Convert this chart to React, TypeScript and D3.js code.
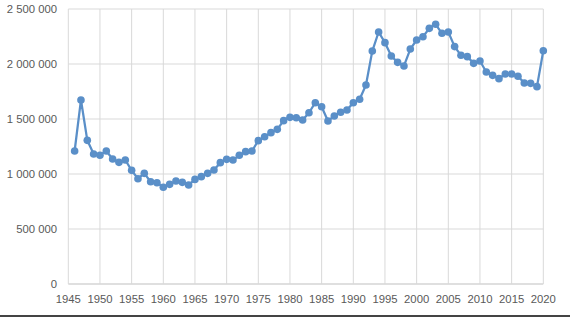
import React from "react";
import * as d3 from "d3";

const years: number[] = d3.range(1946, 2021);
const values: number[] = [
  1209000, 1673000, 1306000, 1182000, 1170000, 1209000, 1136000, 1106000, 1127000, 1033000,
  957000, 1006000, 930000, 921000, 879000, 906000, 936000, 924000, 900000, 951000,
  976000, 1006000, 1036000, 1103000, 1133000, 1127000, 1170000, 1203000, 1209000, 1303000,
  1339000, 1376000, 1406000, 1485000, 1515000, 1512000, 1491000, 1557000, 1648000, 1612000,
  1482000, 1527000, 1561000, 1582000, 1648000, 1679000, 1809000, 2118000, 2291000, 2194000,
  2073000, 2015000, 1982000, 2136000, 2218000, 2248000, 2324000, 2361000, 2279000, 2291000,
  2158000, 2079000, 2067000, 2006000, 2027000, 1927000, 1897000, 1867000, 1909000, 1909000,
  1888000, 1827000, 1824000, 1794000, 2121000,
];
const xTicks: number[] = d3.range(1945, 2021, 5);
const yTicks: number[] = [0, 500000, 1000000, 1500000, 2000000, 2500000];

const W = 570;
const H = 317;
const left = 68.3;
const right = 543.3;
const top = 9;
const bottom = 284;

const fmt = (v: number) => d3.format(",")(v).replace(/,/g, " ");

export default function App() {
  const x = d3.scaleLinear().domain([1945, 2020]).range([left, right]);
  const y = d3.scaleLinear().domain([0, 2500000]).range([bottom, top]);
  const pts = years.map((yr, i) => ({ yr, v: values[i] }));
  const line = d3
    .line<{ yr: number; v: number }>()
    .x((d) => x(d.yr))
    .y((d) => y(d.v));
  const font = "'Liberation Sans', Arial, sans-serif";
  const color = "#5a8fc8";
  return (
    <svg
      width={W}
      height={H}
      style={{ position: "absolute", left: 0, top: 0, background: "#fff" }}
    >
      {yTicks.map((t) => (
        <line
          key={"h" + t}
          x1={left}
          x2={right}
          y1={y(t)}
          y2={y(t)}
          stroke={t === 0 ? "#bfbfbf" : "#d9d9d9"}
          strokeWidth={1}
        />
      ))}
      {xTicks.map((t) => (
        <line
          key={"v" + t}
          x1={x(t)}
          x2={x(t)}
          y1={top}
          y2={bottom}
          stroke="#d9d9d9"
          strokeWidth={1}
        />
      ))}
      {yTicks.map((t) => (
        <text
          key={"yl" + t}
          x={57}
          y={y(t)}
          dy="0.35em"
          textAnchor="end"
          fontFamily={font}
          fontSize={11.3}
          fill="#595959"
        >
          {fmt(t)}
        </text>
      ))}
      {xTicks.map((t) => (
        <text
          key={"xl" + t}
          x={x(t)}
          y={299}
          dy="0.35em"
          textAnchor="middle"
          fontFamily={font}
          fontSize={11.3}
          fill="#595959"
        >
          {t}
        </text>
      ))}
      <path
        d={line(pts) || ""}
        fill="none"
        stroke={color}
        strokeWidth={2.25}
        strokeLinejoin="round"
      />
      {pts.map((p) => (
        <circle key={p.yr} cx={x(p.yr)} cy={y(p.v)} r={3.8} fill={color} />
      ))}
      <rect x={0} y={315} width={W} height={2} fill="#444" />
    </svg>
  );
}
